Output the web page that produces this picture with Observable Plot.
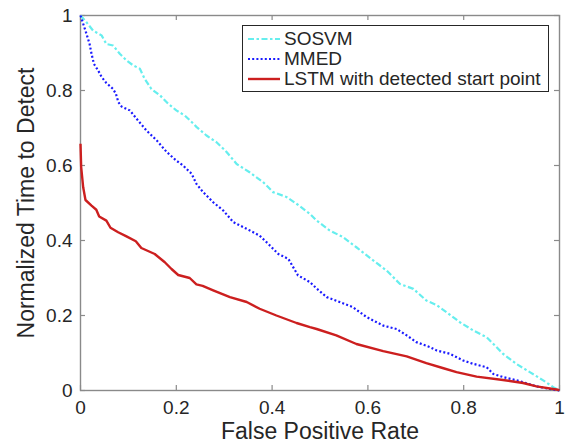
<!DOCTYPE html>
<html>
<head>
<meta charset="utf-8">
<script src="https://cdn.jsdelivr.net/npm/d3@7"></script>
<script src="https://cdn.jsdelivr.net/npm/@observablehq/plot@0.6"></script>
<style>
  html, body { margin: 0; padding: 0; background: #fff; }
  #wrap { position: relative; width: 568px; height: 445px; font-family: "Liberation Sans", Arial, Helvetica, sans-serif; color: #262626; }
  #legend { position: absolute; left: 242px; top: 25px; width: 307px; height: 67px; border: 1px solid #262626; background: #fff; box-sizing: border-box; }
  .row { position: absolute; left: 4px; height: 20px; display: flex; align-items: center; font-size: 19px; white-space: nowrap; }
  .row svg { width: 34px; height: 20px; margin-right: 3px; }
</style>
</head>
<body>
<div id="wrap"></div>
<script>
// ---- data ----
const seriesNames = ["SOSVM", "MMED", "LSTM with detected start point"];

const sosvmFPR = [0,0.0125,0.026,0.044,0.054,0.068,0.082,0.096,0.110,0.124,0.134,0.148,0.166,0.183,0.200,0.218,0.232,0.242,0.263,0.284,0.305,0.326,0.353,0.381,0.402,0.430,0.451,0.479,0.493,0.520,0.548,0.576,0.611,0.639,0.667,0.695,0.722,0.743,0.764,0.792,0.820,0.848,0.862,0.882,0.910,0.938,0.966,0.987,1];
const sosvmTTD = [1,0.982,0.960,0.947,0.924,0.920,0.898,0.880,0.867,0.858,0.831,0.804,0.787,0.765,0.747,0.733,0.716,0.703,0.680,0.662,0.636,0.604,0.582,0.556,0.529,0.516,0.498,0.471,0.453,0.427,0.409,0.382,0.347,0.320,0.284,0.271,0.240,0.228,0.209,0.182,0.160,0.142,0.124,0.098,0.071,0.049,0.027,0.009,0];

const mmedFPR = [0,0.0056,0.0125,0.019,0.023,0.028,0.037,0.044,0.054,0.068,0.074,0.079,0.086,0.103,0.120,0.138,0.159,0.180,0.200,0.214,0.232,0.242,0.256,0.277,0.298,0.319,0.347,0.374,0.392,0.413,0.434,0.444,0.454,0.479,0.493,0.514,0.541,0.569,0.597,0.632,0.660,0.681,0.701,0.729,0.743,0.771,0.799,0.820,0.848,0.862,0.882,0.917,0.952,0.980,1];
const mmedTTD = [1,0.978,0.951,0.924,0.898,0.871,0.853,0.836,0.820,0.804,0.791,0.769,0.757,0.747,0.720,0.693,0.667,0.636,0.613,0.600,0.578,0.551,0.529,0.502,0.480,0.449,0.431,0.413,0.391,0.364,0.351,0.329,0.307,0.289,0.272,0.249,0.236,0.222,0.196,0.173,0.164,0.147,0.129,0.116,0.107,0.098,0.080,0.071,0.062,0.044,0.036,0.025,0.011,0.004,0];

const lstmFPR = [0,0.0014,0.0056,0.0104,0.023,0.033,0.039,0.054,0.0626,0.0786,0.096,0.1155,0.127,0.155,0.176,0.190,0.204,0.228,0.242,0.255,0.277,0.312,0.347,0.374,0.409,0.451,0.479,0.493,0.534,0.576,0.632,0.681,0.722,0.756,0.785,0.827,0.882,0.924,0.952,0.997,1];
const lstmTTD = [0.658,0.596,0.542,0.508,0.493,0.482,0.464,0.453,0.434,0.422,0.411,0.398,0.380,0.364,0.342,0.324,0.308,0.300,0.283,0.279,0.267,0.249,0.236,0.218,0.200,0.180,0.169,0.164,0.147,0.124,0.105,0.091,0.073,0.060,0.049,0.037,0.028,0.020,0.011,0.002,0];

const xTicks = [0, 0.2, 0.4, 0.6, 0.8, 1];
const yTicks = [0, 0.2, 0.4, 0.6, 0.8, 1];
const xLabel = "False Positive Rate";
const yLabel = "Normalized Time to Detect";

// ---- styles ----
const colors = ["#66eeee", "#1a1aff", "#cc1f1f"];
const dashes = ["6,2.5,2.5,2.5", "2,2.2", null];
const widths = [2.2, 2.2, 2.4];
const axisGray = "#8a8a8a";

const toRows = (xs, ys) => xs.map((x, i) => ({x, y: ys[i]}));
const seriesData = [toRows(sosvmFPR, sosvmTTD), toRows(mmedFPR, mmedTTD), toRows(lstmFPR, lstmTTD)];

const fmt = d => String(d);

const chart = Plot.plot({
  width: 568,
  height: 445,
  marginLeft: 80,
  marginRight: 9,
  marginTop: 15,
  marginBottom: 55,
  style: {fontFamily: '"Liberation Sans", Arial, Helvetica, sans-serif', color: "#262626", background: "#fff"},
  x: {domain: [0, 1]},
  y: {domain: [0, 1]},
  marks: [
    Plot.frame({stroke: axisGray, strokeWidth: 1.4}),
    Plot.gridX(xTicks, {stroke: axisGray, strokeOpacity: 1, strokeWidth: 1.2, insetTop: 370}),
    Plot.gridX(xTicks, {stroke: axisGray, strokeOpacity: 1, strokeWidth: 1.2, insetBottom: 370}),
    Plot.gridY(yTicks, {stroke: axisGray, strokeOpacity: 1, strokeWidth: 1.2, insetRight: 474}),
    Plot.gridY(yTicks, {stroke: axisGray, strokeOpacity: 1, strokeWidth: 1.2, insetLeft: 474}),
    Plot.axisX(xTicks, {tickSize: 0, tickPadding: 10, tickFormat: fmt, label: null, fontSize: 19, fill: "#262626"}),
    Plot.axisY(yTicks, {tickSize: 0, tickPadding: 8, tickFormat: fmt, label: null, fontSize: 19, fill: "#262626"}),
    Plot.text([xLabel], {frameAnchor: "bottom", dy: 48, lineAnchor: "bottom", textAnchor: "middle", fontSize: 23, fill: "#262626"}),
    Plot.text([yLabel], {frameAnchor: "left", dx: -47, rotate: -90, lineAnchor: "bottom", textAnchor: "middle", fontSize: 23, fill: "#262626"}),
    ...seriesData.map((d, i) => Plot.line(d, {x: "x", y: "y", stroke: colors[i], strokeWidth: widths[i], strokeDasharray: dashes[i], strokeLinejoin: "round", strokeLinecap: "butt"}))
  ]
});

const wrap = document.getElementById("wrap");
wrap.appendChild(chart);

// ---- legend (inside the axes box, as in the reference) ----
const legend = document.createElement("div");
legend.id = "legend";
seriesNames.forEach((name, i) => {
  const row = document.createElement("div");
  row.className = "row";
  row.style.top = (3 + i * 20) + "px";
  const dash = dashes[i] ? `stroke-dasharray="${dashes[i]}"` : "";
  row.innerHTML = `<svg viewBox="0 0 34 20"><line x1="1" y1="10" x2="33" y2="10" stroke="${colors[i]}" stroke-width="${widths[i]}" ${dash}/></svg><span>${name}</span>`;
  legend.appendChild(row);
});
wrap.appendChild(legend);
</script>
</body>
</html>
